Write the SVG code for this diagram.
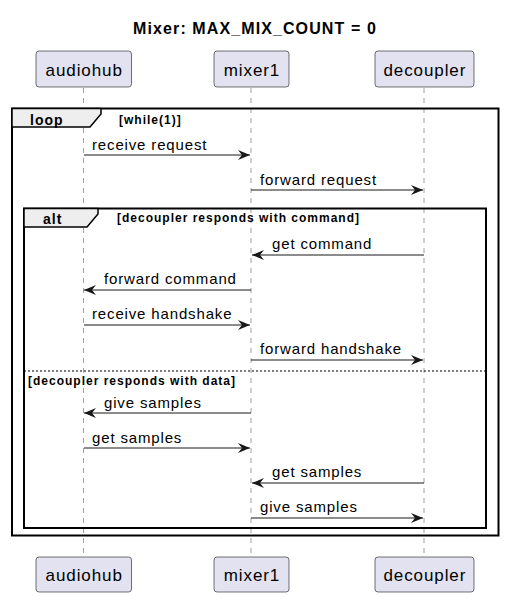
<svg xmlns="http://www.w3.org/2000/svg" width="505" height="600" viewBox="0 0 505 600">
<style>
text{font-family:"Liberation Sans",Arial,sans-serif;fill:#000}
.t{font-size:16px;font-weight:bold;letter-spacing:1.1px}
.p{font-size:17px;letter-spacing:0.9px}
.m{font-size:15px;letter-spacing:0.85px}
.g{font-size:12px;font-weight:bold;letter-spacing:1px}
.k{font-size:14px;font-weight:bold;letter-spacing:1px}
.box{fill:#E2E2F0;stroke:#181818;stroke-width:0.6}
.life{stroke:#A0A0A0;stroke-width:1;stroke-dasharray:5,5}
.msg{stroke:#181818;stroke-width:1;fill:none}
.frame{fill:none;stroke:#000;stroke-width:2}
.tab{fill:#EEEEEE;stroke:#000;stroke-width:1.5}
</style>
<defs>
<marker id="ah" viewBox="0 0 12 10" refX="12" refY="5" markerWidth="12" markerHeight="10" markerUnits="userSpaceOnUse" orient="auto">
<path d="M0,0 L12,5 L0,10 L4,5 Z" fill="#181818"/>
</marker>
</defs>
<text class="t" x="255" y="34" text-anchor="middle">Mixer: MAX_MIX_COUNT = 0</text>
<g id="lifelines">
<line class="life" x1="83.5" y1="88" x2="83.5" y2="557"/>
<line class="life" x1="251" y1="88" x2="251" y2="557"/>
<line class="life" x1="424" y1="88" x2="424" y2="557"/>
</g>
<g id="audiohub">
<rect class="box" x="36" y="51" width="95.5" height="36" rx="3"/>
<text class="p" x="84.2" y="76" text-anchor="middle">audiohub</text>
<rect class="box" x="36" y="557" width="95.5" height="35" rx="3"/>
<text class="p" x="84.2" y="581" text-anchor="middle">audiohub</text>
</g>
<g id="mixer1">
<rect class="box" x="214" y="51" width="75" height="36" rx="3"/>
<text class="p" x="252" y="76" text-anchor="middle">mixer1</text>
<rect class="box" x="214" y="557" width="75" height="35" rx="3"/>
<text class="p" x="252" y="581" text-anchor="middle">mixer1</text>
</g>
<g id="decoupler">
<rect class="box" x="375" y="51" width="99" height="36" rx="3"/>
<text class="p" x="424.9" y="76" text-anchor="middle">decoupler</text>
<rect class="box" x="375" y="557" width="99" height="35" rx="3"/>
<text class="p" x="424.9" y="581" text-anchor="middle">decoupler</text>
</g>
<g id="loop">
<rect class="frame" x="12" y="108.5" width="486.5" height="427"/>
<path class="tab" d="M12,108.5 L101,108.5 L101,114 L90,127 L12,127 Z"/>
<text class="k" x="30" y="125">loop</text>
<text class="g" x="119" y="124">[while(1)]</text>
</g>
<g id="alt">
<rect class="frame" x="24" y="208.5" width="462" height="319.5"/>
<path class="tab" d="M24,208.5 L98,208.5 L98,214 L87,227 L24,227 Z"/>
<text class="k" x="43" y="224">alt</text>
<text class="g" x="117" y="222">[decoupler responds with command]</text>
<line x1="24" y1="371" x2="486" y2="371" stroke="#000" stroke-width="1" stroke-dasharray="2,2"/>
<text class="g" x="28" y="385">[decoupler responds with data]</text>
</g>
<g id="connectors">
<line class="msg" x1="84" y1="155" x2="250" y2="155" marker-end="url(#ah)"/>
<text class="m" x="92" y="150">receive request</text>
<line class="msg" x1="251" y1="190" x2="423" y2="190" marker-end="url(#ah)"/>
<text class="m" x="260" y="185">forward request</text>
<line class="msg" x1="424" y1="255" x2="252" y2="255" marker-end="url(#ah)"/>
<text class="m" x="272" y="249">get command</text>
<line class="msg" x1="251" y1="290" x2="84" y2="290" marker-end="url(#ah)"/>
<text class="m" x="104" y="284">forward command</text>
<line class="msg" x1="84" y1="325" x2="250" y2="325" marker-end="url(#ah)"/>
<text class="m" x="92" y="319">receive handshake</text>
<line class="msg" x1="251" y1="360" x2="423" y2="360" marker-end="url(#ah)"/>
<text class="m" x="260" y="354">forward handshake</text>
<line class="msg" x1="251" y1="413" x2="84" y2="413" marker-end="url(#ah)"/>
<text class="m" x="104" y="408">give samples</text>
<line class="msg" x1="84" y1="448" x2="250" y2="448" marker-end="url(#ah)"/>
<text class="m" x="92" y="443">get samples</text>
<line class="msg" x1="424" y1="483" x2="252" y2="483" marker-end="url(#ah)"/>
<text class="m" x="272" y="477">get samples</text>
<line class="msg" x1="251" y1="518" x2="423" y2="518" marker-end="url(#ah)"/>
<text class="m" x="260" y="512">give samples</text>
</g>
</svg>
